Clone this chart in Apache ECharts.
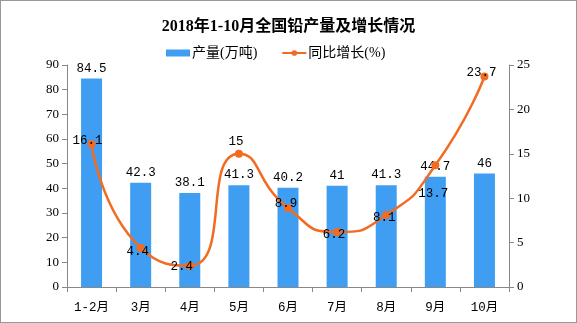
<!DOCTYPE html>
<html><head><meta charset="utf-8">
<script src="https://cdn.jsdelivr.net/npm/echarts@6/dist/echarts.min.js"></script>
<style>html,body{margin:0;padding:0;background:#fff}#c{width:575px;height:321px;border:1px solid #999}</style>
</head><body><div id="c"></div>
<script>
const categories = ['1-2月','3月','4月','5月','6月','7月','8月','9月','10月'];
const production = [84.5, 42.3, 38.1, 41.3, 40.2, 41, 41.3, 44.7, 46];
const growth = [16.1, 4.4, 2.4, 15, 8.9, 6.2, 8.1, 13.7, 23.7];
const leftTicks = {min: 0, max: 90, interval: 10};
const rightTicks = {min: 0, max: 25, interval: 5};
// label placement offsets for the growth labels (style only)
const growthLabelOffsets = [[-4,-3],[-3,4],[-8,1],[-3,-12],[-2,-4],[-3,3],[-2,3],[-2,28],[-3,-4]];

const SERIF = '"Liberation Serif","Noto Sans CJK SC",serif';
const MONO = '"Liberation Mono","Noto Sans CJK SC",monospace';
const chart = echarts.init(document.getElementById('c'));
const axisCommon = {
  axisLine: {show: true, lineStyle: {color: '#888'}},
  axisTick: {show: true, lineStyle: {color: '#888'}},
  splitLine: {show: false},
  axisLabel: {color: '#000', fontSize: 13, fontFamily: SERIF}
};
const growthData = growth.map((v, i) => ({
  value: v,
  label: {offset: growthLabelOffsets[i]}
}));
chart.setOption({
  animation: false,
  textStyle: {fontFamily: SERIF},
  title: {text: '2018年1-10月全国铅产量及增长情况', left: 'center', top: 13,
    textStyle: {fontSize: 16, fontWeight: 'bold', color: '#000', fontFamily: SERIF}},
  legend: {top: 40, left: 160, itemGap: 24, itemWidth: 24, itemHeight: 7,
    textStyle: {fontSize: 14, color: '#000', fontFamily: SERIF, padding: [0,0,0,-3]},
    data: [{name: '产量(万吨)', icon: 'rect'}, {name: '同比增长(%)'}]},
  grid: {left: 66, right: 67, top: 64, bottom: 35},
  xAxis: {type: 'category', data: categories, ...axisCommon,
    axisTick: {show: true, alignWithLabel: false, lineStyle: {color: '#888'}},
    axisLabel: {color: '#000', fontSize: 12.5, fontFamily: MONO, margin: 14}},
  yAxis: [
    {type: 'value', ...leftTicks, ...axisCommon},
    {type: 'value', ...rightTicks, ...axisCommon}
  ],
  series: [
    {name: '产量(万吨)', type: 'bar', data: production, barWidth: 21,
      itemStyle: {color: '#409EF2'},
      label: {show: true, position: 'top', distance: 4, color: '#000', fontSize: 12.5, fontFamily: MONO}},
    {name: '同比增长(%)', type: 'line', yAxisIndex: 1, data: growthData, smooth: 0.6,
      symbol: 'circle', symbolSize: 8,
      lineStyle: {color: '#F26B21', width: 2.5}, itemStyle: {color: '#F26B21'},
      label: {show: true, position: 'inside', color: '#000', fontSize: 12.5, fontFamily: MONO}}
  ]
});
</script></body></html>
